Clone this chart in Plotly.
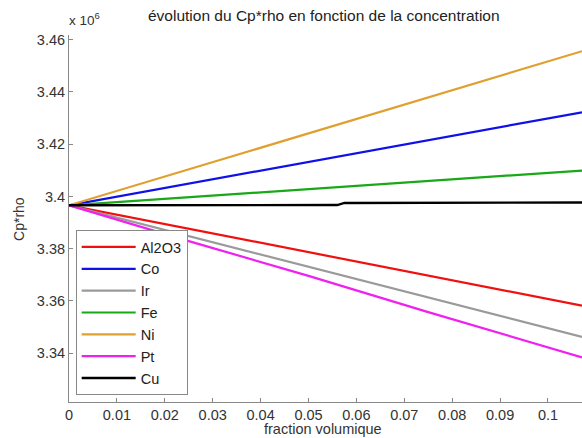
import plotly.graph_objects as go

x_frac = [0, 0.025, 0.05, 0.075, 0.1071]
series = {
    "Al2O3": [3.3966e6, 3.3876e6, 3.3787e6, 3.3697e6, 3.3582e6],
    "Co":    [3.3966e6, 3.4049e6, 3.4132e6, 3.4215e6, 3.4322e6],
    "Ir":    [3.3966e6, 3.3848e6, 3.3731e6, 3.3613e6, 3.3462e6],
    "Fe":    [3.3966e6, 3.3997e6, 3.4028e6, 3.4059e6, 3.4099e6],
    "Ni":    [3.3966e6, 3.4104e6, 3.4241e6, 3.4379e6, 3.4556e6],
    "Pt":    [3.3966e6, 3.3829e6, 3.3696e6, 3.3557e6, 3.3384e6],
}
cu_x = [0, 0.056, 0.0575, 0.1071]
cu_y = [3.3966e6, 3.3967e6, 3.3975e6, 3.3977e6]

colors = {
    "Al2O3": "#f01010",
    "Co": "#1010e8",
    "Ir": "#9a9a9a",
    "Fe": "#18a818",
    "Ni": "#e0a030",
    "Pt": "#f020f0",
    "Cu": "#000000",
}

ytick_vals = [3.34e6, 3.36e6, 3.38e6, 3.40e6, 3.42e6, 3.44e6, 3.46e6]
ytick_text = ["3.34", "3.36", "3.38", "3.4", "3.42", "3.44", "3.46"]
xtick_vals = [0, 0.01, 0.02, 0.03, 0.04, 0.05, 0.06, 0.07, 0.08, 0.09, 0.1]
xtick_text = ["0", "0.01", "0.02", "0.03", "0.04", "0.05", "0.06", "0.07", "0.08", "0.09", "0.1"]

fig = go.Figure()
for name, vals in series.items():
    fig.add_trace(go.Scatter(x=x_frac, y=vals, mode="lines", name=name,
                             line=dict(color=colors[name], width=2.2)))
fig.add_trace(go.Scatter(x=cu_x, y=cu_y, mode="lines", name="Cu",
                         line=dict(color=colors["Cu"], width=2.4)))

font = "Liberation Sans, Arial, sans-serif"
fig.update_layout(
    width=582, height=438,
    margin=dict(l=69, r=0, t=35, b=36, autoexpand=False),
    paper_bgcolor="white", plot_bgcolor="white",
    font=dict(family=font, size=13, color="#222"),
    showlegend=True,
    legend=dict(x=0.013, y=0.019, xanchor="left", yanchor="bottom",
                bgcolor="white", bordercolor="#888", borderwidth=1,
                font=dict(size=14.5, color="#222"), tracegroupgap=0,
                itemwidth=54),
    xaxis=dict(range=[0, 0.1071], tickvals=xtick_vals, ticktext=xtick_text,
               automargin=False,
               showgrid=False, zeroline=False, showline=True, linecolor="#888",
               linewidth=1, ticks="inside", ticklen=4, tickcolor="#888",
               tickfont=dict(size=14.5, color="#333")),
    yaxis=dict(range=[3.3213e6, 3.4618e6], tickvals=ytick_vals, ticktext=ytick_text,
               automargin=False,
               showgrid=False, zeroline=False, showline=True, linecolor="#888",
               linewidth=1, ticks="inside", ticklen=4, tickcolor="#888",
               tickfont=dict(size=14.5, color="#333")),
    annotations=[
        dict(text="évolution du Cp*rho en fonction de la concentration",
             xref="paper", yref="paper", x=0.498, y=1.0, yshift=9,
             xanchor="center", yanchor="bottom", showarrow=False,
             font=dict(size=15.5, color="#222")),
        dict(text="x 10<sup>6</sup>", xref="paper", yref="paper", x=-0.003, y=1.0,
             yshift=5, xanchor="left", yanchor="bottom", showarrow=False,
             font=dict(size=13.5, color="#333")),
        dict(text="fraction volumique", xref="paper", yref="paper",
             x=0.495, y=-0.0735, xanchor="center", yanchor="middle",
             showarrow=False, font=dict(size=14.5, color="#333")),
        dict(text="Cp*rho", xref="paper", yref="paper", textangle=-90,
             x=-0.0985, y=0.5, xanchor="center", yanchor="middle",
             showarrow=False, font=dict(size=14, color="#333")),
    ],
)

fig.write_html("out.html", config={"displayModeBar": False},
               post_script="document.body.style.margin='0';document.body.style.overflow='hidden';")
